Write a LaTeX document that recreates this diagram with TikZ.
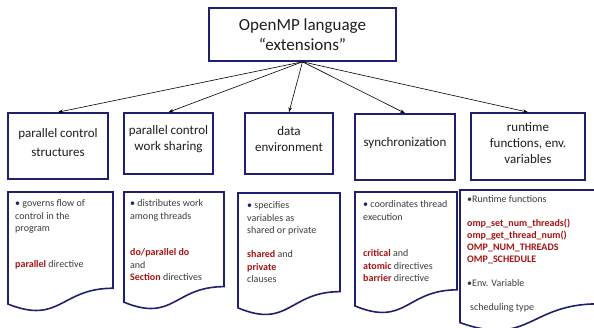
\documentclass[tikz,border=0pt]{standalone}
\usepackage{fontspec}
\setmainfont{Carlito}
\usetikzlibrary{arrows.meta}
\definecolor{navy}{RGB}{32,32,112}
\definecolor{dred}{RGB}{168,20,20}
\definecolor{txt}{RGB}{30,30,30}
\definecolor{gtxt}{RGB}{60,60,60}
\newcommand\docpath[4]{%
  \draw[docshape] (#1,#2) -- (#3,#2) -- (#3,{#2+0.802*#4})
    .. controls ({(#1+#3)/2},{#2+0.802*#4}) and ({(#1+#3)/2},{#2+1.1075*#4}) ..
    (#1,{#2+0.934*#4}) -- cycle;}
\newcommand\rd[1]{\textcolor{dred}{\textbf{#1}}}
\newcommand\bul{\textcolor{navy}{•}}
\begin{document}
\begin{tikzpicture}[x=1pt,y=-1pt,
  boxst/.style={draw=navy,line width=1.6pt,fill=white,inner sep=0pt},
  toptext/.style={align=center,font=\fontsize{17}{20}\selectfont,text=txt,inner sep=0pt},
  cattext/.style={align=center,font=\fontsize{13}{16}\selectfont,text=txt,inner sep=0pt},
  docshape/.style={draw=navy,line width=1.6pt,fill=white},
  doctext/.style={anchor=north west,align=left,inner sep=0pt,font=\fontsize{10}{12.5}\selectfont,text=gtxt},
  arr/.style={-{Stealth[length=5pt,width=3.5pt]},line width=0.6pt,black}
]
\useasboundingbox (0,0) rectangle (594,328);

% top box
\node[boxst,minimum width=187pt,minimum height=53pt] (top) at (302.5,34.5) {};
\node[toptext] (toplbl) at (302.5,35) {OpenMP language\\“extensions”};

% category boxes
\node[boxst,minimum width=100pt,minimum height=66pt] (b1) at (58,146) {};
\node[boxst,minimum width=89pt,minimum height=61pt] (b2) at (168.5,143.5) {};
\node[boxst,minimum width=88pt,minimum height=61pt] (b3) at (289,143.5) {};
\node[boxst,minimum width=100pt,minimum height=66pt] (b4) at (405,147) {};
\node[boxst,minimum width=114pt,minimum height=67pt] (b5) at (528,146.5) {};

\node[cattext] (t1) at (58,142.5) {parallel control\\[3pt]structures};
\node[cattext] (t2) at (168.5,139) {parallel control\\work sharing};
\node[cattext] (t3) at (289,139) {data\\environment};
\node[cattext] (t4) at (405,143) {synchronization};
\node[cattext] (t5) at (528,143) {runtime\\functions, env.\\variables};

% arrows
\foreach \b in {b1,b2,b3,b4,b5}
  \draw[arr] (top.south) -- (\b.north);

% document shapes
\docpath{8}{192}{113}{120}
\docpath{124}{192}{224}{118}
\docpath{238}{193}{340}{123}
\docpath{355}{192}{457}{122}
\docpath{460}{190}{598}{142}

% document texts
\node[doctext] (d1a) at (15,199.5) {\bul{} governs flow of\\control in the\\program};
\node[doctext] (d1b) at (15,260.5) {\rd{parallel} directive};

\node[doctext] (d2a) at (130,199.5) {\bul{} distributes work\\among threads};
\node[doctext] (d2b) at (130,248.5) {\rd{do/parallel do}\\and\\\rd{Section} directives};

\node[doctext] (d3a) at (247,201.5) {\bul{} specifies\\variables as\\shared or private};
\node[doctext] (d3b) at (247,250.5) {\rd{shared} and\\\rd{private}\\clauses};

\node[doctext] (d4a) at (363,200.5) {\bul{} coordinates thread\\execution};
\node[doctext] (d4b) at (363,249.5) {\rd{critical} and\\\rd{atomic} directives\\\rd{barrier} directive};

\node[doctext] (d5a) at (467,195.5) {•Runtime functions};
\node[doctext,font=\fontsize{10}{12}\selectfont] (d5b) at (467,218.5) {\rd{omp\_set\_num\_threads()}\\\rd{omp\_get\_thread\_num()}\\\rd{OMP\_NUM\_THREADS}\\\rd{OMP\_SCHEDULE}};
\node[doctext] (d5c) at (467,279.5) {•Env. Variable};
\node[doctext] (d5d) at (470,303.5) {scheduling type};
\end{tikzpicture}
\end{document}
